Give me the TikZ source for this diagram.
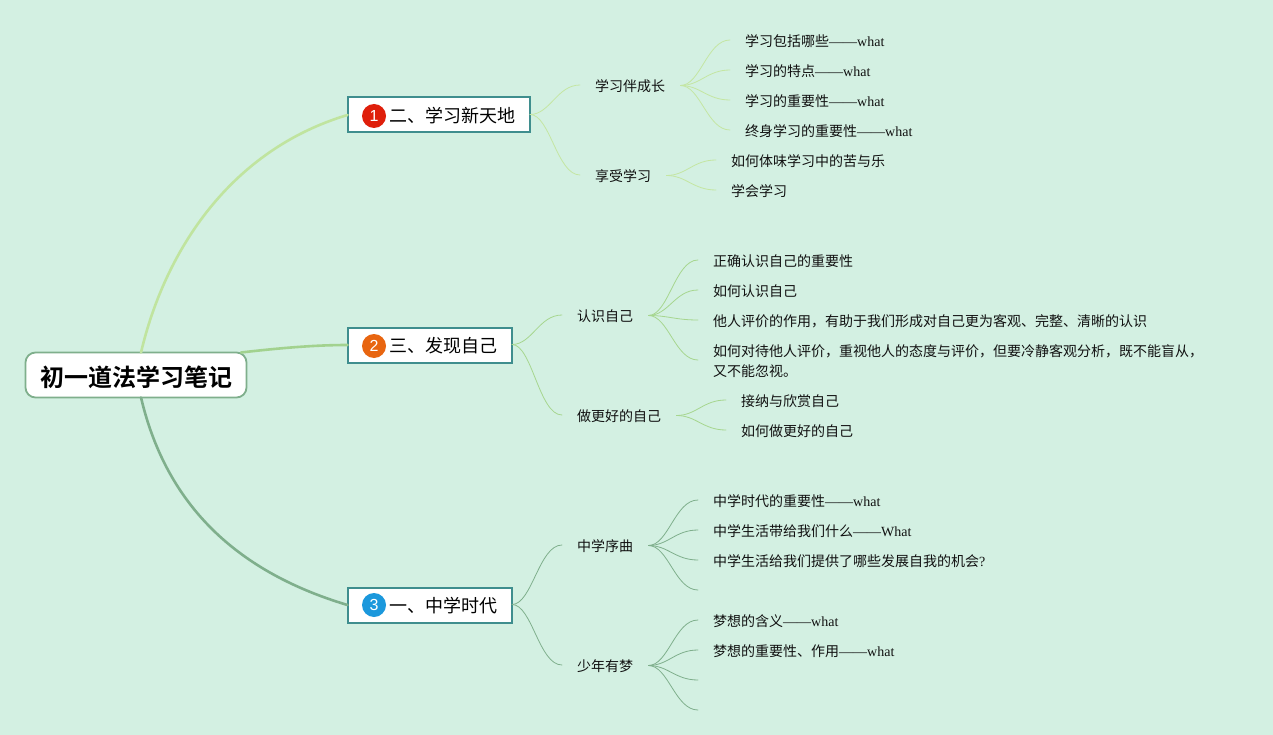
\documentclass[tikz,border=0pt]{standalone}
\usepackage{fontspec}
\setmainfont{Liberation Serif}
\newfontfamily\cjk[BoldFont={Noto Sans CJK SC Bold}]{Noto Sans CJK SC}
\newfontfamily\numfont{Liberation Sans}
\definecolor{bgc}{HTML}{D3F0E2}
\definecolor{ink}{HTML}{111111}
\definecolor{topc}{HTML}{C4E6A2}
\definecolor{midc}{HTML}{A6D68F}
\definecolor{lowc}{HTML}{7FAF8C}
\definecolor{teal1}{HTML}{3F8E8E}
\definecolor{badgeA}{HTML}{DF1F0B}
\definecolor{badgeB}{HTML}{E86510}
\definecolor{badgeC}{HTML}{1B98DC}
\newcommand{\Cn}[1]{{\cjk #1}}
\tikzset{
  rootbox/.style={draw=lowc, line width=1.8pt, fill=white, rounded corners=10pt, minimum width=221pt, minimum height=45pt, inner sep=0pt, outer sep=0pt, text=black, text height=22.2pt, text depth=0pt, font=\fontsize{24}{28}\selectfont\cjk\bfseries},
  mainbox/.style={draw=teal1, line width=2pt, fill=white, anchor=west, minimum height=35pt, inner xsep=15pt, inner ysep=0pt, outer sep=0pt, text=black, text height=16pt, text depth=0.4pt, font=\fontsize{18}{22}\selectfont\cjk},
  badge/.style={circle, minimum size=24pt, inner sep=0pt, text=white, font=\fontsize{16}{20}\selectfont\numfont},
  textnode/.style={anchor=west, inner xsep=15pt, inner ysep=0pt, text=ink, align=left, font=\fontsize{14}{20}\selectfont},
  link/.style={line width=0.8pt, line cap=round},
  trunk/.style={line width=2.6pt, line cap=round}
}
\newcommand{\branch}[3]{\draw[link, #1] ([yshift=0.5pt]#2) .. controls +(20,0) and +(-23,0) .. ([yshift=1pt]#3);}
\begin{document}
\begin{tikzpicture}[x=1pt,y=-1pt]
\useasboundingbox (0,0) rectangle (1273,735);
\fill[bgc] (0,0) rectangle (1273,735);

\node[rootbox] (root) at (136,375) {初一道法学习笔记};

\node[mainbox] (m1) at (347.5,115) {\hspace*{26.5pt}二、学习新天地};
\node[mainbox] (m2) at (347.5,345) {\hspace*{26.5pt}三、发现自己};
\node[mainbox] (m3) at (347.5,605) {\hspace*{26.5pt}一、中学时代};
\node[badge, fill=badgeA] (b1) at (374,116) {1};
\node[badge, fill=badgeB] (b2) at (374,346) {2};
\node[badge, fill=badgeC] (b3) at (374,605) {3};

% first branch
\node[textnode] (a1) at (580,86) {\Cn{学习伴成长}};
\node[textnode] (a2) at (580,176) {\Cn{享受学习}};
\node[textnode] (a11) at (730,41) {\Cn{学习包括哪些}——what};
\node[textnode] (a12) at (730,71) {\Cn{学习的特点}——what};
\node[textnode] (a13) at (730,101) {\Cn{学习的重要性}——what};
\node[textnode] (a14) at (730,131) {\Cn{终身学习的重要性}——what};
\node[textnode] (a21) at (716,161) {\Cn{如何体味学习中的苦与乐}};
\node[textnode] (a22) at (716,191) {\Cn{学会学习}};

% second branch
\node[textnode] (c1) at (562,316) {\Cn{认识自己}};
\node[textnode] (c2) at (562,416) {\Cn{做更好的自己}};
\node[textnode] (c11) at (698,261) {\Cn{正确认识自己的重要性}};
\node[textnode] (c12) at (698,291) {\Cn{如何认识自己}};
\node[textnode] (c13) at (698,321) {\Cn{他人评价的作用，有助于我们形成对自己更为客观、完整、清晰的认识}};
\node[textnode] (c14) at (698,361) {\Cn{如何对待他人评价，重视他人的态度与评价，但要冷静客观分析，既不能盲从，}\\\Cn{又不能忽视。}};
\node[textnode] (c21) at (726,401) {\Cn{接纳与欣赏自己}};
\node[textnode] (c22) at (726,431) {\Cn{如何做更好的自己}};

% third branch
\node[textnode] (d1) at (562,546) {\Cn{中学序曲}};
\node[textnode] (d2) at (562,666) {\Cn{少年有梦}};
\node[textnode] (d11) at (698,501) {\Cn{中学时代的重要性}——what};
\node[textnode] (d12) at (698,531) {\Cn{中学生活带给我们什么}——What};
\node[textnode] (d13) at (698,561) {\Cn{中学生活给我们提供了哪些发展自我的机会}?};
\coordinate (d14) at (698,591);
\node[textnode] (d21) at (698,621) {\Cn{梦想的含义}——what};
\node[textnode] (d22) at (698,651) {\Cn{梦想的重要性、作用}——what};
\coordinate (d23) at (698,681);
\coordinate (d24) at (698,711);

% trunks
\draw[trunk, topc!85!midc] ([xshift=5pt]root.north) .. controls +(24,-102) and +(-117,35) .. (m1.west);
\draw[trunk, midc!90!lowc] ([xshift=105pt]root.north) .. controls +(35,-4) and +(-35,0) .. (m2.west);
\draw[trunk, lowc] ([xshift=5pt]root.south) .. controls +(24,102) and +(-117,-35) .. (m3.west);

% links
\branch{topc}{m1.east}{a1.west}
\branch{topc}{m1.east}{a2.west}
\branch{topc}{a1.east}{a11.west}
\branch{topc}{a1.east}{a12.west}
\branch{topc}{a1.east}{a13.west}
\branch{topc}{a1.east}{a14.west}
\branch{topc}{a2.east}{a21.west}
\branch{topc}{a2.east}{a22.west}

\branch{midc}{m2.east}{c1.west}
\branch{midc}{m2.east}{c2.west}
\branch{midc}{c1.east}{c11.west}
\branch{midc}{c1.east}{c12.west}
\branch{midc}{c1.east}{c13.west}
\branch{midc}{c1.east}{c14.west}
\branch{midc}{c2.east}{c21.west}
\branch{midc}{c2.east}{c22.west}

\branch{lowc}{m3.east}{d1.west}
\branch{lowc}{m3.east}{d2.west}
\branch{lowc}{d1.east}{d11.west}
\branch{lowc}{d1.east}{d12.west}
\branch{lowc}{d1.east}{d13.west}
\branch{lowc}{d1.east}{d14}
\branch{lowc}{d2.east}{d21.west}
\branch{lowc}{d2.east}{d22.west}
\branch{lowc}{d2.east}{d23}
\branch{lowc}{d2.east}{d24}
\end{tikzpicture}
\end{document}
